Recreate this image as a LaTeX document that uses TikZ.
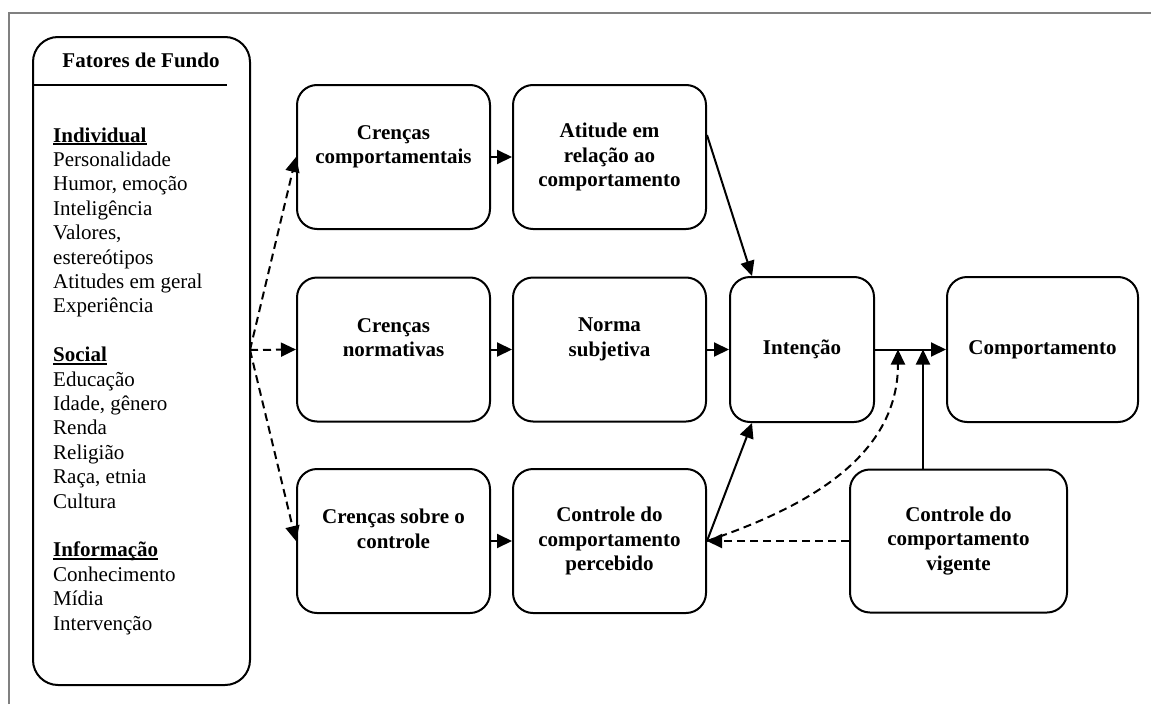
\documentclass[tikz,border=0pt]{standalone}
\usepackage{fontspec}
\setmainfont{Liberation Serif}
\usetikzlibrary{arrows.meta}
% bold heading with a heavy underline
\newcommand{\ulhead}[1]{\setbox0\hbox{\bfseries #1}\rlap{\rule[-3pt]{\wd0}{1.6pt}}\box0}
\begin{document}
\begin{tikzpicture}[x=1pt,y=-1pt,
  box/.style={draw, line width=2pt, rounded corners=20pt, align=center, inner sep=0pt,
    font=\fontsize{21}{24.4}\selectfont\bfseries},
  stdbox/.style={box, minimum width=193pt, minimum height=144pt},
  arr/.style={line width=2pt, -{Triangle[length=15pt,width=14pt]}},
  darr/.style={arr, dash pattern=on 8pt off 5pt},
  listline/.style={anchor=base west, inner sep=0pt, font=\fontsize{21}{24.4}\selectfont}
]
\useasboundingbox (0,0) rectangle (1151,704);

% page frame
\draw[line width=2pt, gray] (9,704) -- (9,13) -- (1151,13);

% background factors panel
\node[draw, line width=2pt, rounded corners=25pt, minimum width=217pt, minimum height=648pt, inner sep=0pt] (ff) at (141.5,361) {};
\node[anchor=base, inner sep=0pt, font=\fontsize{21}{24.4}\selectfont\bfseries] (fft) at (141,67) {Fatores de Fundo};
\draw[line width=2pt] (ff.west |- 0,85) -- (227,85);
\foreach \t/\k [count=\i] in {{\ulhead{Individual}}/0, Personalidade/1, {Humor, emoção}/2,
    Inteligência/3, {Valores,}/4, estereótipos/5, Atitudes em geral/6, Experiência/7,
    {\ulhead{Social}}/9, Educação/10, {Idade, gênero}/11, Renda/12, Religião/13,
    {Raça, etnia}/14, Cultura/15,
    {\ulhead{Informação}}/17, Conhecimento/18, Mídia/19, Intervenção/20}
  \node[listline] (li\i) at (53,{142+24.4*\k}) {\t};

% belief / evaluation boxes
\node[stdbox] (cc) at (393.5,157) {Crenças\\comportamentais\\~};
\node[stdbox] (at) at (609.5,157) {Atitude em\\relação ao\\comportamento};
\node[stdbox] (cn) at (393.5,349.5) {Crenças\\normativas\\~};
\node[stdbox] (ns) at (609.5,349.5) {Norma\\subjetiva\\~};
\node[stdbox] (cs) at (393.5,541) {Crenças sobre o\\controle\\~};
\node[stdbox] (cp) at (609.5,541) {Controle do\\comportamento\\percebido};
\node[box, minimum width=144pt, minimum height=145pt] (int) at (802,349.5) {Intenção};
\node[box, minimum width=191pt, minimum height=145pt] (comp) at (1042.5,349.5) {Comportamento};
\node[box, minimum width=217pt, minimum height=143pt] (cv) at (958.5,541) {Controle do\\comportamento\\vigente};

% dashed influences of the background factors
\coordinate (ffout) at (250,350);
\draw[darr] (ffout) -- (cc.west);
\draw[darr] (ffout) -- (cn.west);
\draw[darr] (ffout) -- (cs.west);

% main chain
\draw[arr] (cc) -- (at);
\draw[arr] (cn) -- (ns);
\draw[arr] (ns) -- (int);
\draw[arr] (cs) -- (cp);
\draw[arr] ([yshift=22pt]at.east) -- ([xshift=23pt]int.north west);
\draw[arr] (cp.east) -- ([xshift=23pt]int.south west);
\draw[arr] (int) -- (comp);

% actual control
\coordinate (jv) at (923,349.5);
\coordinate (jd) at (898,349.5);
\draw[arr] (cv.north -| jv) -- (jv);
\draw[darr] (cv.west) -- (cp.east);
\draw[darr] (cp.east) .. controls +(94,-32) and +(0,110) .. (jd);
\end{tikzpicture}
\end{document}
